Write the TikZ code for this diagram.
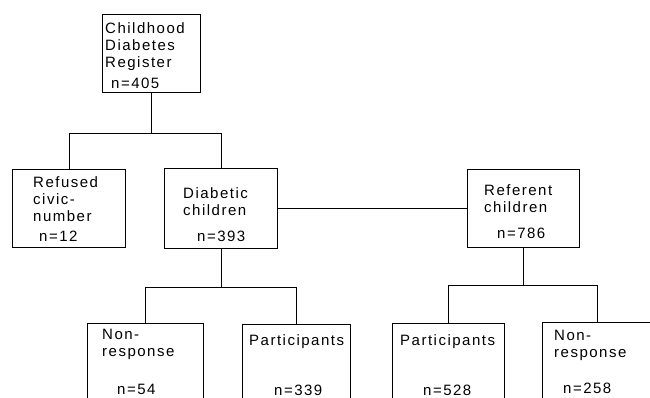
\documentclass[tikz,border=0pt]{standalone}
\usepackage{fontspec}
\newfontfamily\boxfont[LetterSpace=10]{Liberation Sans}
\usetikzlibrary{positioning}
\tikzset{box node/.style={rectangle,draw,line width=1.2pt,anchor=north west,inner sep=0pt},
         box text/.style={anchor=base west,align=left,inner sep=0pt,font=\boxfont\fontsize{15}{17}\selectfont},
         link/.style={draw,line width=1.2pt},
            }

\begin{document}
\begin{tikzpicture}[x=1pt,y=-1pt]
\useasboundingbox (0,0) rectangle (650,397);
\clip (0,0) rectangle (650,397);
 \node[box node,minimum width=98pt,minimum height=78pt] (reg) at (102,14) {};
 \node[box node,minimum width=113pt,minimum height=78pt] (refu) at (12,169) {};
 \node[box node,minimum width=113pt,minimum height=80pt] (diab) at (164,168) {};
 \node[box node,minimum width=112pt,minimum height=78pt] (refc) at (467,169) {};
  \node[box node,minimum width=116pt,minimum height=100pt] (nonl) at (87,323) {};
  \node[box node,minimum width=108pt,minimum height=100pt] (parl) at (242,324) {};
  \node[box node,minimum width=112pt,minimum height=100pt] (parr) at (392,323) {};
  \node[box node,minimum width=110pt,minimum height=100pt] (nonr) at (542,322) {};

% text nodes sit on the baseline of their last line
 \node[box text] (regtxt) at (105,88) {Childhood\\Diabetes\\Register\\[4pt]\hspace*{6pt}n=405};
 \node[box text] (refutxt) at (33,241) {Refused\\civic-\\number\\[3pt]\hspace*{6pt}n=12};
 \node[box text] (diabtxt) at (183,241) {Diabetic\\children\\[9pt]\hspace*{14pt}n=393};
 \node[box text] (refctxt) at (484,238) {Referent\\children\\[9pt]\hspace*{13pt}n=786};
  \node[box text] (nonltxt) at (102,394) {Non-\\response\\[21pt]\hspace*{15pt}n=54};
  \node[box text] (parltxt) at (249,395) {Participants\\[33pt]\hspace*{25pt}n=339};
  \node[box text] (parrtxt) at (400,395) {Participants\\[33pt]\hspace*{23pt}n=528};
  \node[box text] (nonrtxt) at (554,393) {Non-\\response\\[19pt]\hspace*{9pt}n=258};

 \path[link] (reg.south) -- ++(0,40) coordinate (regsplit);
 \path[link] (refu.north) |- (regsplit) -| (diab.north);
 \path[link] (diab.east) -- (refc.west);
 \path[link] (diab.south) -- ++(0,38) coordinate (diabsplit);
 \path[link] (nonl.north) |- (diabsplit) -| (parl.north);
 \path[link] (refc.south) -- ++(0,37) coordinate (refcsplit);
 \path[link] (parr.north) |- (refcsplit) -| (nonr.north);
\end{tikzpicture}
\end{document}
